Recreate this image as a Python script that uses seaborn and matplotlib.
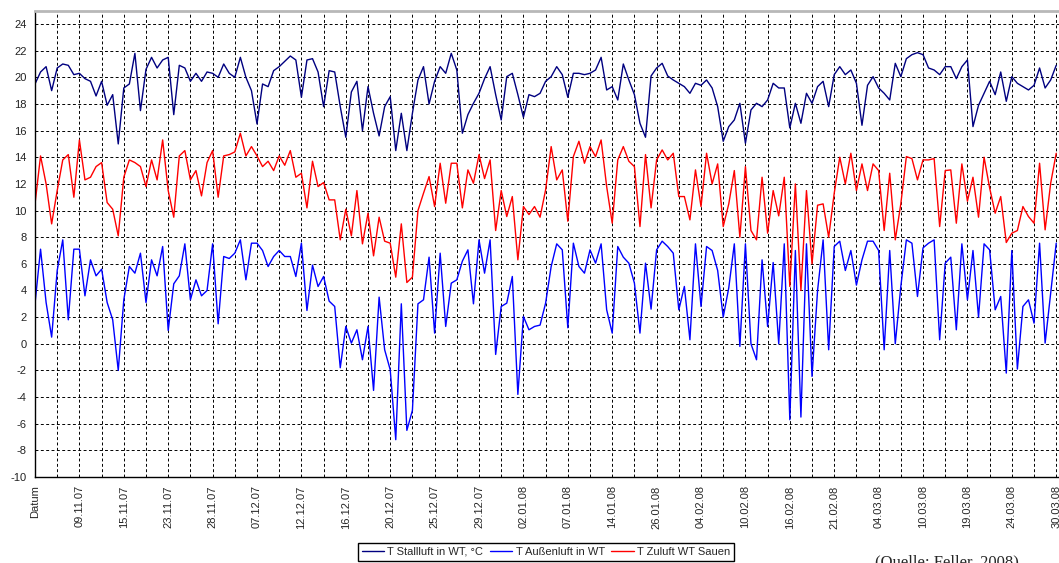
import numpy as np
import pandas as pd
import matplotlib
matplotlib.use("Agg")
import matplotlib.pyplot as plt
import seaborn as sns

# ---------------- data (4 samples per category tick) ----------------
date_labels = ["Datum", "09.11.07", "15.11.07", "23.11.07", "28.11.07", "07.12.07", "12.12.07",
               "16.12.07", "20.12.07", "25.12.07", "29.12.07", "02.01.08", "07.01.08", "14.01.08",
               "26.01.08", "04.02.08", "10.02.08", "16.02.08", "21.02.08", "04.03.08", "10.03.08",
               "19.03.08", "24.03.08", "30.03.08"]

series_names = ["T Stallluft in WT, °C", "T Außenluft in WT", "T Zuluft WT Sauen"]

t_stallluft = [
    19.5, 20.4, 20.8, 19.0, 20.7, 21.0, 20.9, 20.2, 20.3, 19.9,
    19.7, 18.6, 19.7, 17.9, 18.7, 15.0, 19.2, 19.5, 21.8, 17.5,
    20.6, 21.5, 20.7, 21.3, 21.5, 17.2, 20.9, 20.7, 19.7, 20.3,
    19.7, 20.4, 20.3, 20.0, 21.0, 20.3, 20.0, 21.5, 20.0, 19.0,
    16.5, 19.5, 19.3, 20.5, 20.8, 21.2, 21.6, 21.3, 18.5, 21.3,
    21.4, 20.4, 17.8, 20.5, 20.4, 17.8, 15.5, 18.9, 19.7, 16.0,
    19.3, 17.3, 15.6, 17.8, 18.55, 14.5, 17.3, 14.5, 17.3, 19.8,
    20.8, 18.0, 19.7, 20.8, 20.3, 21.8, 20.55, 15.8, 17.2, 18.05,
    18.8, 19.9, 20.8, 18.7, 16.8, 20.05, 20.3, 18.7, 17.0, 18.7,
    18.55, 18.8, 19.7, 20.05, 20.8, 20.2, 18.5, 20.3, 20.3, 20.2,
    20.3, 20.55, 21.5, 19.05, 19.3, 18.3, 21.0, 19.8, 18.7, 16.55,
    15.5, 20.1, 20.7, 21.05, 20.1, 19.8, 19.55, 19.3, 18.8, 19.55,
    19.4, 19.8, 19.2, 17.8, 15.2, 16.3, 16.8, 18.05, 15.05, 17.55,
    18.05, 17.8, 18.3, 19.55, 19.2, 19.2, 16.2, 18.05, 16.55, 18.8,
    18.05, 19.3, 19.7, 17.8, 20.2, 20.8, 20.2, 20.55, 19.55, 16.4,
    19.4, 20.05, 19.2, 18.8, 18.3, 21.05, 20.05, 21.4, 21.7, 21.85,
    21.7, 20.7, 20.55, 20.2, 20.8, 20.8, 19.9, 20.8, 21.3, 16.3,
    17.9, 18.8, 19.7, 18.7, 20.4, 18.2, 20.05, 19.55, 19.3, 19.05,
    19.4, 20.7, 19.2, 19.8, 20.9,
]

t_aussenluft = [
    3.0, 7.1, 3.1, 0.5, 5.5, 7.8, 1.8, 7.1, 7.1, 3.6,
    6.3, 5.1, 5.6, 3.1, 1.8, -2.0, 3.3, 5.8, 5.3, 6.8,
    3.1, 6.3, 5.1, 7.3, 1.0, 4.5, 5.1, 7.5, 3.3, 4.8,
    3.6, 4.0, 7.5, 1.5, 6.55, 6.4, 6.8, 7.8, 4.8, 7.55,
    7.55, 7.0, 5.8, 6.55, 7.0, 6.55, 6.55, 5.05, 7.55, 2.5,
    5.9, 4.3, 5.05, 3.2, 2.8, -1.8, 1.3, 0.05, 1.05, -1.2,
    1.3, -3.5, 3.5, -0.45, -1.95, -7.2, 3.0, -6.5, -5.0, 3.0,
    3.3, 6.5, 0.8, 6.8, 1.3, 4.55, 4.8, 6.2, 7.05, 3.0,
    7.8, 5.3, 7.8, -0.8, 2.8, 3.05, 5.05, -3.8, 2.05, 1.05,
    1.3, 1.4, 3.05, 5.8, 7.5, 7.05, 1.2, 7.55, 5.8, 5.3,
    7.05, 6.05, 7.5, 2.55, 0.8, 7.3, 6.5, 6.05, 4.55, 0.8,
    6.05, 2.6, 7.05, 7.7, 7.3, 6.8, 2.55, 4.3, 0.3, 7.5,
    2.8, 7.3, 7.0, 5.5, 2.0, 4.2, 7.5, -0.2, 7.5, 0.0,
    -1.2, 6.3, 1.3, 6.1, 0.0, 7.5, -5.7, 7.0, -5.5, 7.5,
    -2.45, 4.0, 7.8, -0.45, 7.3, 7.7, 5.5, 7.0, 4.4, 6.3,
    7.7, 7.7, 7.0, -0.45, 7.0, 0.0, 4.3, 7.8, 7.55, 3.55,
    7.2, 7.55, 7.8, 0.3, 6.05, 6.5, 1.05, 7.5, 3.3, 7.0,
    2.0, 7.5, 7.05, 2.55, 3.55, -2.2, 7.0, -1.9, 2.8, 3.3,
    1.55, 7.55, 0.05, 3.8, 7.55,
]

t_zuluft = [
    10.5, 14.1, 12.0, 9.0, 11.5, 13.8, 14.2, 11.0, 15.3, 12.3,
    12.5, 13.3, 13.6, 10.6, 10.1, 8.1, 12.5, 13.8, 13.6, 13.3,
    11.8, 13.8, 12.3, 15.3, 11.5, 9.5, 14.1, 14.5, 12.3, 13.0,
    11.1, 13.6, 14.5, 11.0, 14.1, 14.2, 14.4, 15.8, 14.1, 14.8,
    14.1, 13.3, 13.7, 13.0, 14.1, 13.4, 14.5, 12.5, 12.8, 10.2,
    13.7, 11.8, 12.1, 10.8, 10.8, 7.8, 10.1, 8.1, 11.5, 7.5,
    9.8, 6.6, 9.5, 7.7, 7.55, 5.0, 9.0, 4.6, 5.0, 10.0,
    11.3, 12.55, 10.3, 13.55, 10.55, 13.55, 13.55, 10.2, 13.05, 12.05,
    14.2, 12.4, 13.8, 8.5, 11.5, 9.55, 11.05, 6.3, 10.3, 9.7,
    10.3, 9.5, 11.55, 14.8, 12.3, 13.05, 9.2, 14.05, 15.2, 13.55,
    14.8, 14.05, 15.3, 11.8, 9.05, 13.8, 14.8, 13.7, 13.3, 8.8,
    14.2, 10.2, 13.8, 14.55, 13.8, 14.3, 11.05, 11.05, 9.3, 13.05,
    10.3, 14.3, 12.0, 13.5, 8.8, 10.5, 13.0, 8.0, 13.3, 8.5,
    7.8, 12.5, 8.3, 11.5, 9.6, 12.5, 4.3, 12.0, 4.0, 11.5,
    6.0, 10.4, 10.5, 8.0, 11.3, 14.0, 12.0, 14.3, 11.5, 13.5,
    11.5, 13.5, 13.0, 8.5, 12.8, 7.8, 10.5, 14.05, 13.9, 12.3,
    13.8, 13.8, 13.9, 8.8, 13.0, 13.05, 9.05, 13.5, 10.7, 12.5,
    9.5, 14.0, 11.7, 9.8, 11.05, 7.6, 8.3, 8.5, 10.3, 9.55,
    9.05, 13.55, 8.55, 12.05, 14.3,
]

series_values = [t_stallluft, t_aussenluft, t_zuluft]
series_colors = ["#000080", "#0000FF", "#FF0000"]
samples_per_tick = 4

# ---------------- long-form table ----------------
frames = []
for name, vals in zip(series_names, series_values):
    frames.append(pd.DataFrame({"idx": np.arange(len(vals)), "value": vals, "series": name}))
df = pd.concat(frames, ignore_index=True)

# ---------------- style ----------------
sns.set_style("white")
plt.rcParams["font.family"] = ["Liberation Sans", "DejaVu Sans"]
plt.rcParams["axes.unicode_minus"] = False

W, H = 1059, 563
fig = plt.figure(figsize=(W / 100, H / 100), dpi=100)
n_max = max(len(v) for v in series_values)
x_right = n_max - 0.5
ax = fig.add_axes([35 / W, 86 / H, (W - 35) / W, (477 - 10.7) / H])

sns.lineplot(data=df, x="idx", y="value", hue="series", hue_order=series_names,
             palette=dict(zip(series_names, series_colors)), estimator=None,
             linewidth=1.0, legend=False, ax=ax)

ax.set_xlim(0, x_right)
ax.set_ylim(-10, 25)
ax.set_yticks(np.arange(-10, 25, 2))
n_ticks = 2 * (len(date_labels) - 1)
tick_pos = np.arange(0, n_ticks + 1) * samples_per_tick
ax.set_xticks(tick_pos)
ax.set_xticklabels([date_labels[k // 2] if k % 2 == 0 else "" for k in range(n_ticks + 1)],
                   rotation=90, fontsize=8, va="top", ha="center")
ax.tick_params(axis="x", direction="inout", length=8, width=1, color="black", pad=2)
ax.tick_params(axis="y", direction="out", length=4, width=1, color="black", labelsize=8,
               labelcolor="#222222", pad=2)
ax.set_xlabel("")
ax.set_ylabel("")

ax.grid(True, color="black", linestyle=(0, (3, 2.5)), linewidth=0.7)
ax.set_axisbelow(True)

for side in ["left", "bottom"]:
    ax.spines[side].set_color("black")
    ax.spines[side].set_linewidth(1.0)
ax.spines["right"].set_visible(False)
ax.spines["top"].set_color("#B8B8B8")
ax.spines["top"].set_linewidth(2.0)

handles = ax.get_lines()[:3]
leg = fig.legend(handles, series_names, loc="upper center", ncol=3,
                 bbox_to_anchor=(546 / W, 1 - 543 / H), fontsize=8,
                 frameon=True, fancybox=False, shadow=False, framealpha=1,
                 edgecolor="black", handlelength=2.0, handletextpad=0.3,
                 columnspacing=0.6, borderpad=0.35, borderaxespad=0)
leg.get_frame().set_linewidth(1.0)

fig.text(875 / W, 1 - 554 / H, "(Quelle: Feller, 2008)", ha="left", va="top",
         fontsize=12, family=["Liberation Serif", "DejaVu Serif"])

fig.savefig("out.png", dpi=100, facecolor="white")
